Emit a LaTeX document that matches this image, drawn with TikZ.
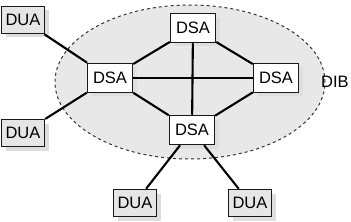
\documentclass[tikz,border=0pt]{standalone}
\usepackage{fontspec}
\setmainfont{Liberation Sans}
\usetikzlibrary{shadows,shapes.geometric}
\definecolor{shade}{HTML}{DEDEDE}
\definecolor{duafill}{HTML}{E6E6E6}
\definecolor{dibfill}{HTML}{E8E8E8}
\tikzset{
  boxbase/.style={draw=black!90, line width=1.5pt, inner sep=0pt,
    font=\fontsize{16.5}{18}\selectfont,
    general shadow={fill=shade, shadow xshift=4pt, shadow yshift=-4pt}},
  duabox/.style={boxbase, fill=duafill, minimum width=43pt, minimum height=27pt},
  dsabox/.style={boxbase, fill=white, minimum width=45pt, minimum height=29pt},
  link/.style={line width=2.1pt, black}
}
\begin{document}
\begin{tikzpicture}[x=1pt,y=-1pt]
\useasboundingbox (0,0) rectangle (351,222);
\node[draw=black!80, line width=1pt, dash pattern=on 3pt off 3pt, fill=dibfill,
  ellipse, minimum width=270pt, minimum height=154pt, inner sep=0pt] (dib) at (190,82) {};
\node[font=\fontsize{16.5}{18}\selectfont] (dibl) at (335,82) {DIB};
\node[dsabox] (st) at (193,28) {DSA};
\node[dsabox] (sl) at (110,78) {DSA};
\node[dsabox] (sr) at (276,78) {DSA};
\node[dsabox] (sb) at (192,130) {DSA};
\node[duabox] (u1) at (23,20) {DUA};
\node[duabox] (u2) at (23,133) {DUA};
\node[duabox] (u3) at (135,203) {DUA};
\node[duabox] (u4) at (250,203) {DUA};
\draw[link] (u1) -- (sl);
\draw[link] (u2) -- (sl);
\draw[link] (sl) -- (st);
\draw[link] (sl) -- (sr);
\draw[link] (sl) -- (sb);
\draw[link] (st) -- (sr);
\draw[link] (st) -- (sb);
\draw[link] (sr) -- (sb);
\draw[link] (sb) -- (u3);
\draw[link] (sb) -- (u4);
\end{tikzpicture}
\end{document}
